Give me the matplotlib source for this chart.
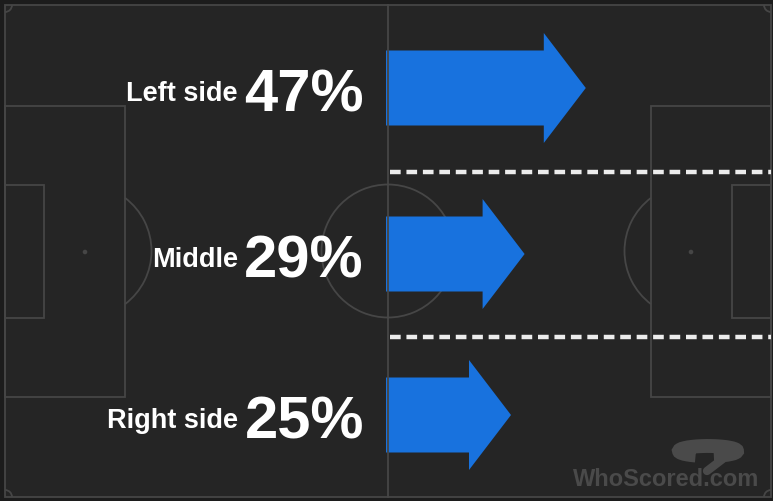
import matplotlib
matplotlib.use("Agg")
import matplotlib.pyplot as plt
from matplotlib.patches import Rectangle, Arc, Circle, FancyArrow

# attack sides (share of attacks)
zones = ["Left side", "Middle", "Right side"]
shares = [47, 29, 25]
zone_centres = [89, 255, 416]      # vertical centre of each lane (px from top)
dividers = [173, 338]              # dashed lane separators

W, H = 773, 502
BG = "#252525"
LINE = "#464646"
BLUE = "#1872de"
MARK = "#4a4a4a"

fig = plt.figure(figsize=(W / 100, H / 100), dpi=100, facecolor="#1c1c1c")
ax = fig.add_axes([0, 0, 1, 1])
ax.set_xlim(0, W)
ax.set_ylim(H, 0)
ax.axis("off")

# pitch, drawn in pixels (about 7.3 px per metre)
x0, x1, y0, y1 = 5, 771, 6, 498
mx, my = (x0 + x1) / 2, (y0 + y1) / 2
lw = 1.3
ax.add_patch(Rectangle((x0, y0), x1 - x0, y1 - y0, facecolor=BG, edgecolor=LINE, lw=lw))
ax.plot([mx, mx], [y0, y1], color=LINE, lw=lw)
ax.add_patch(Arc((mx, my), 133, 133, color=LINE, lw=lw))
for side in (1, -1):
    gx = x0 if side == 1 else x1
    ax.add_patch(Rectangle((gx, 107), side * 120, 291, fill=False, edgecolor=LINE, lw=lw))
    ax.add_patch(Rectangle((gx, 186), side * 39, 133, fill=False, edgecolor=LINE, lw=lw))
    ax.add_patch(Circle((gx + side * 80, my + 1), 1.6, color=LINE))
    if side == 1:
        ax.add_patch(Arc((gx + 80, my), 133, 133, theta1=-53, theta2=53, color=LINE, lw=lw))
    else:
        ax.add_patch(Arc((gx - 80, my), 133, 133, theta1=127, theta2=233, color=LINE, lw=lw))
# corner arcs (y axis is flipped, so 90 deg points down)
for cx, cy, t1 in [(x0, y0, 0), (x1, y0, 90), (x0, y1, 270), (x1, y1, 180)]:
    ax.add_patch(Arc((cx, cy), 14, 14, theta1=t1, theta2=t1 + 90, color=LINE, lw=lw))

# lane separators
for yd in dividers:
    ax.plot([390, x1], [yd, yd], color="#ececec", lw=3.2, dashes=(2.4, 1.3), solid_capstyle="butt")

# arrows, length grows with the share
for zone, pct, yc in zip(zones, shares, zone_centres):
    length = 40 + 3.4 * pct
    ax.add_patch(FancyArrow(386, yc, length, 0, width=75, head_width=110, head_length=42,
                            length_includes_head=True, color=BLUE, lw=0))
    ax.text(364, yc + 23, f"{pct}%", color="white", fontsize=43, fontweight="bold",
            family="Liberation Sans", ha="right", va="baseline")
    ax.text(238, yc + 12, zone, color="white", fontsize=19.5, fontweight="bold",
            family="Liberation Sans", ha="right", va="baseline")

# watermark
ax.add_patch(Arc((708, 452), 58, 10, theta1=160, theta2=400, color=MARK, lw=10))
ax.plot([724, 707], [459, 472], color=MARK, lw=6, solid_capstyle="round")
ax.text(759, 486, "WhoScored.com", color=MARK, fontsize=17, fontweight="bold",
        family="Liberation Sans", ha="right", va="baseline")

fig.savefig("out.png", dpi=100, facecolor=fig.get_facecolor())
